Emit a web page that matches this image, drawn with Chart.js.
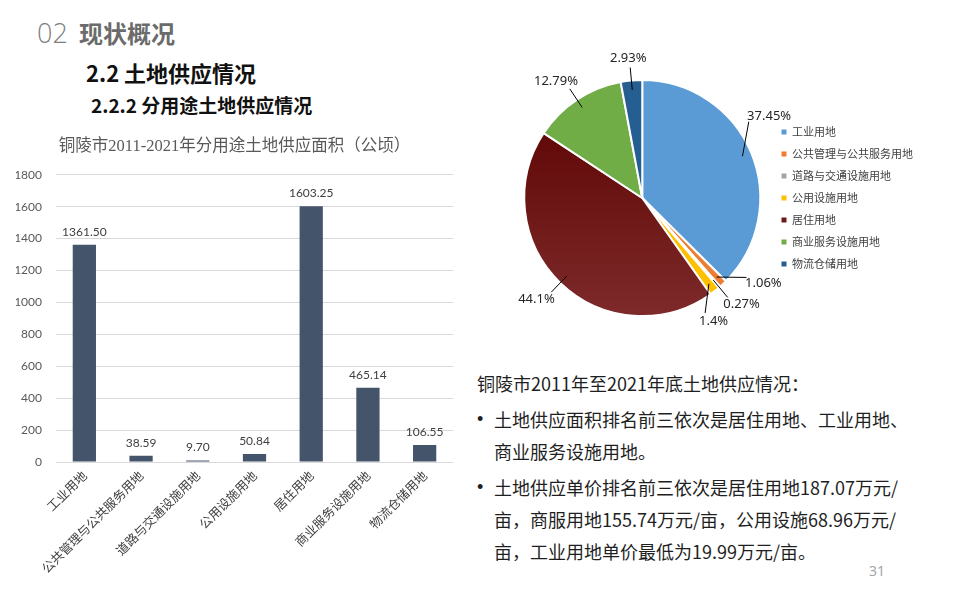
<!DOCTYPE html>
<html>
<head>
<meta charset="utf-8">
<script src="https://cdn.jsdelivr.net/npm/chart.js@4/dist/chart.umd.min.js"></script>
<style>
html,body{margin:0;padding:0;background:#fff;width:960px;height:600px;overflow:hidden;}
body{position:relative;font-family:"Noto Sans CJK SC","Noto Sans",sans-serif;}
.abs{position:absolute;white-space:nowrap;line-height:1;}
#t02{left:37px;top:19px;font-size:27px;color:#7f7f7f;font-weight:300;font-family:"Open Sans","Noto Sans CJK SC",sans-serif;}
#tsec{left:79px;top:21px;font-size:24px;color:#6b6b6b;font-weight:bold;}
#t22{left:86px;top:61px;font-size:22px;color:#111;font-weight:bold;}
#t222{left:91px;top:95px;font-size:19px;color:#111;font-weight:bold;}
#summary{position:absolute;left:477px;top:367px;font-size:18px;line-height:32px;color:#1f1f1f;white-space:nowrap;}
#summary p{margin:0;}
#summary .b{position:relative;padding-left:17px;margin-top:4px;}
#summary .b span.dot{position:absolute;left:0;top:0;font-family:"Liberation Sans",Arial,sans-serif;font-size:18px;}
#page{left:869px;top:564px;font-size:14px;color:#a6a6a6;font-family:"Noto Sans","Open Sans",sans-serif;}
#bar{position:absolute;left:16px;top:130px;}
#pie{position:absolute;left:470px;top:50px;}
</style>
</head>
<body>
<div id="t02" class="abs">02</div>
<div id="tsec" class="abs">现状概况</div>
<div id="t22" class="abs">2.2 土地供应情况</div>
<div id="t222" class="abs">2.2.2 分用途土地供应情况</div>

<canvas id="bar" width="437" height="470" style="width:437px;height:470px;"></canvas>
<canvas id="pie" width="453" height="296" style="width:453px;height:296px;"></canvas>

<div id="summary">
  <p>铜陵市2011年至2021年底土地供应情况：</p>
  <p class="b"><span class="dot">•</span>土地供应面积排名前三依次是居住用地、工业用地、<br>商业服务设施用地。</p>
  <p class="b"><span class="dot">•</span>土地供应单价排名前三依次是居住用地187.07万元/<br>亩，商服用地155.74万元/亩，公用设施68.96万元/<br>亩，工业用地单价最低为19.99万元/亩。</p>
</div>
<div id="page" class="abs">31</div>

<script>
// ---- data ----
const categories = ['工业用地','公共管理与公共服务用地','道路与交通设施用地','公用设施用地','居住用地','商业服务设施用地','物流仓储用地'];
const areaValues = [1361.50, 38.59, 9.70, 50.84, 1603.25, 465.14, 106.55];
const barTitle = '铜陵市2011-2021年分用途土地供应面积（公顷）';
const yAxisMin = 0;
const yAxisMax = 1800;
const yAxisStep = 200;

// ---- styles ----
const barColor = '#44546A';
const pieColors = ['#5B9BD5','#ED7D31','#A5A5A5','#FFC000',null,'#70AD47','#255E91'];
const cjk = '"Noto Sans CJK SC","Noto Sans",sans-serif';

// value labels above bars
const barValueLabels = {
  id:'barValueLabels',
  afterDatasetsDraw(chart){
    const ctx = chart.ctx;
    const meta = chart.getDatasetMeta(0);
    const data = chart.data.datasets[0].data;
    ctx.save();
    ctx.font = '12px Lato, "Noto Sans", sans-serif';
    ctx.fillStyle = '#404040';
    ctx.textAlign = 'center';
    ctx.textBaseline = 'middle';
    meta.data.forEach((bar,i)=>{
      ctx.fillText(Number(data[i]).toFixed(2), bar.x, bar.y - 13);
    });
    ctx.restore();
  }
};

new Chart(document.getElementById('bar'), {
  type:'bar',
  data:{
    labels:categories,
    datasets:[{data:areaValues, backgroundColor:barColor, barPercentage:0.41, categoryPercentage:1}]
  },
  options:{
    responsive:false,
    animation:false,
    layout:{padding:0},
    plugins:{
      legend:{display:false},
      tooltip:{enabled:false},
      title:{display:true,text:barTitle,color:'#595959',
        font:{family:'"Liberation Serif","Noto Sans CJK SC",serif',size:16.5,weight:'normal',lineHeight:1.2},
        padding:{top:7,bottom:18}}
    },
    scales:{
      x:{
        grid:{display:false,drawTicks:false},
        border:{display:true,color:'#D9D9D9'},
        ticks:{minRotation:45,maxRotation:45,autoSkip:false,padding:6,color:'#404040',font:{family:cjk,size:12.5}},
        afterFit(s){ s.height = 138; }
      },
      y:{
        min:yAxisMin, max:yAxisMax,
        grid:{color:'#D9D9D9',drawTicks:false},
        border:{display:false},
        ticks:{stepSize:yAxisStep,padding:14,color:'#595959',font:{family:'Lato,"Noto Sans",sans-serif',size:12},
          callback:(v)=>String(v)},
        afterFit(s){ s.width = 40; }
      }
    }
  },
  plugins:[barValueLabels]
});

// ---- pie ----
function fmtPct(v){ return parseFloat(v.toFixed(2)).toString() + '%'; }

function legendRect(chart){
  const lg = chart.legend;
  if(!lg || !lg.legendHitBoxes || !lg.legendHitBoxes.length) return null;
  let l=Infinity,t=Infinity,r=-Infinity,b=-Infinity;
  lg.legendHitBoxes.forEach(h=>{ l=Math.min(l,h.left); t=Math.min(t,h.top); r=Math.max(r,h.left+h.width); b=Math.max(b,h.top+h.height); });
  return {l:l-2,t:t-2,r:r,b:b+2};
}

const pieLabels = {
  id:'pieLabels',
  afterDraw(chart){
    const ctx = chart.ctx;
    const meta = chart.getDatasetMeta(0);
    const data = chart.data.datasets[0].data;
    const total = data.reduce((a,b)=>a+b,0);
    ctx.save();
    ctx.font = '13px "Noto Sans","Open Sans",sans-serif';
    const h = 13;
    const items = meta.data.map((arc,i)=>{
      const p = arc.getProps(['x','y','startAngle','endAngle','outerRadius'], true);
      const mid = (p.startAngle + p.endAngle)/2;
      const text = fmtPct(data[i]/total*100);
      return {cx:p.x, cy:p.y, r:p.outerRadius, mid:mid, ang:mid, text:text, w:ctx.measureText(text).width};
    });
    // spread close labels apart
    const gap = 12*Math.PI/180;
    const sorted = items.slice().sort((a,b)=>a.ang-b.ang);
    for(let it=0; it<200; it++){
      let moved=false;
      for(let k=0;k<sorted.length-1;k++){
        const a=sorted[k], b=sorted[k+1];
        const d=b.ang-a.ang;
        if(d<gap-1e-6){ const push=(gap-d)/2; a.ang-=push; b.ang+=push; moved=true; }
      }
      if(!moved) break;
    }
    const place = (o, ang)=>{
      const dx = Math.cos(ang), dy = Math.sin(ang);
      const ex = o.cx + dx*(o.r+13), ey = o.cy + dy*(o.r+13);
      const tx = ex + dx*(o.w/2+3), ty = ey + dy*(h/2+3);
      return {ex,ey,tx,ty,box:{l:tx-o.w/2,r:tx+o.w/2,t:ty-h/2,b:ty+h/2}};
    };
    const lr = legendRect(chart);
    const hit = (bx)=> lr && bx.l<lr.r && bx.r>lr.l && bx.t<lr.b && bx.b>lr.t;
    // keep labels clear of the legend: rotate by the smallest step that frees them
    items.forEach(o=>{
      if(!hit(place(o,o.ang).box)) return;
      const step = Math.PI/180;
      for(let k=1;k<120;k++){
        if(!hit(place(o,o.ang-k*step).box)){ o.ang-=k*step; return; }
        if(!hit(place(o,o.ang+k*step).box)){ o.ang+=k*step; return; }
      }
    });
    ctx.textAlign='center';
    ctx.textBaseline='middle';
    ctx.strokeStyle='#000';
    ctx.lineWidth=1;
    ctx.fillStyle='#262626';
    items.forEach(o=>{
      const sx = o.cx + Math.cos(o.mid)*o.r*0.92, sy = o.cy + Math.sin(o.mid)*o.r*0.92;
      const p = place(o,o.ang);
      ctx.beginPath(); ctx.moveTo(sx,sy); ctx.lineTo(p.ex,p.ey); ctx.stroke();
      ctx.fillText(o.text, p.tx, p.ty);
    });
    ctx.restore();
  }
};

function sliceColor(c){
  const i = c.dataIndex;
  if(pieColors[i]) return pieColors[i];
  const chart = c.chart, area = chart.chartArea;
  if(!area) return '#6E1414';
  const cy = (area.top+area.bottom)/2;
  const r = 118;
  const g = chart.ctx.createLinearGradient(0, cy-r, 0, cy+r);
  g.addColorStop(0,'#5A0000');
  g.addColorStop(1,'#7E2A2A');
  return g;
}

new Chart(document.getElementById('pie'), {
  type:'pie',
  data:{
    labels:categories,
    datasets:[{data:areaValues, backgroundColor:sliceColor, borderColor:'#ffffff', borderWidth:2}]
  },
  options:{
    responsive:false,
    animation:false,
    radius:118,
    layout:{padding:{left:44,top:0,right:0,bottom:0}},
    plugins:{
      tooltip:{enabled:false},
      legend:{
        position:'right',
        labels:{
          boxWidth:5, boxHeight:5, padding:11, color:'#404040',
          font:{family:cjk,size:11},
          generateLabels(chart){
            let items;
            try { items = Chart.overrides.doughnut.plugins.legend.labels.generateLabels(chart); }
            catch(e){ items = chart.data.labels.map((t,i)=>({text:t,fillStyle:chart.getDatasetMeta(0).data[i].options.backgroundColor,index:i})); }
            items.forEach(it=>{ it.lineWidth=0; it.strokeStyle='rgba(0,0,0,0)'; it.fontColor='#404040'; });
            return items;
          }
        }
      }
    }
  },
  plugins:[pieLabels]
});
</script>
</body>
</html>
